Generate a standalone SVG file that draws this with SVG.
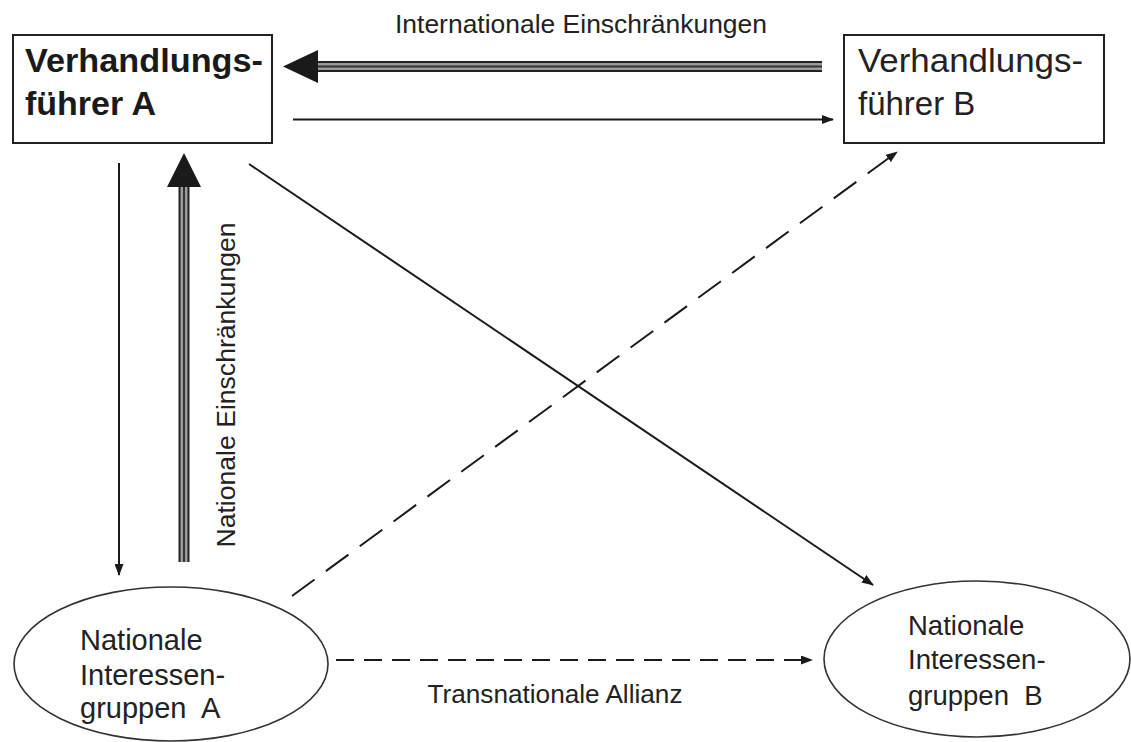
<svg xmlns="http://www.w3.org/2000/svg" width="1131" height="742" viewBox="0 0 1131 742">
<style>
  .box{fill:#fff;stroke:#222;stroke-width:2}
  .ell{fill:#fff;stroke:#333;stroke-width:1.6}
  .t{font-family:"Liberation Sans",Arial,sans-serif;fill:#222}
  .tb{font-family:"Liberation Sans",Arial,sans-serif;fill:#1a1a1a;font-weight:bold}
  .ln{stroke:#1a1a1a;stroke-width:2;fill:none}
  .dash{stroke:#1a1a1a;stroke-width:2;fill:none}
  .outer{stroke:#222;stroke-width:11;fill:none}
  .mid{stroke:#9a9a9a;stroke-width:7;fill:none}
  .core{stroke:#333;stroke-width:2;fill:none}
  .head{fill:#1a1a1a}
</style>
<defs>
  <marker id="arr" markerUnits="userSpaceOnUse" markerWidth="12" markerHeight="9" refX="11" refY="4.5" orient="auto">
    <path d="M0,0 L12,4.5 L0,9 Z" fill="#1a1a1a"/>
  </marker>
</defs>
<rect width="1131" height="742" fill="#fff"/>

<g id="connectors">
  <!-- International constraints: B -> A (triple) -->
  <line class="outer" x1="317" y1="66.5" x2="822" y2="66.5"/>
  <line class="mid" x1="317" y1="66.5" x2="822" y2="66.5"/>
  <line class="core" x1="317" y1="66.5" x2="822" y2="66.5"/>
  <polygon class="head" points="283,66.5 318,50 318,83"/>
  <text class="t" x="581" y="33" font-size="25" text-anchor="middle" textLength="372" lengthAdjust="spacingAndGlyphs">Internationale Einschränkungen</text>

  <!-- A -> B -->
  <line class="ln" x1="293" y1="119.5" x2="833" y2="119.5" marker-end="url(#arr)"/>

  <!-- A -> Gruppen A -->
  <line class="ln" x1="119" y1="163" x2="119" y2="575" marker-end="url(#arr)"/>

  <!-- Gruppen A -> A (triple, nationale Einschraenkungen) -->
  <line class="outer" x1="184" y1="562" x2="184" y2="186"/>
  <line class="mid" x1="184" y1="562" x2="184" y2="186"/>
  <line class="core" x1="184" y1="562" x2="184" y2="186"/>
  <polygon class="head" points="184,153 167,187 201,187"/>
  <text class="t" font-size="25" text-anchor="middle" transform="translate(235,385) rotate(-90)" textLength="325" lengthAdjust="spacingAndGlyphs">Nationale Einschränkungen</text>

  <!-- A -> Gruppen B -->
  <line class="ln" x1="249" y1="164" x2="873" y2="585" marker-end="url(#arr)"/>

  <!-- Gruppen A -> B (dashed) -->
  <line class="dash" x1="292" y1="596" x2="897" y2="152" stroke-dasharray="28,14" marker-end="url(#arr)"/>

  <!-- Transnationale Allianz -->
  <line class="dash" x1="336" y1="660" x2="812" y2="660" stroke-dasharray="18,10" marker-end="url(#arr)"/>
  <text class="t" x="555" y="703" font-size="25" text-anchor="middle" textLength="255" lengthAdjust="spacingAndGlyphs">Transnationale Allianz</text>
</g>

<g id="node-verhandlungsfuehrer-a">
  <rect class="box" x="13" y="35" width="259" height="108"/>
  <text class="tb" x="25" y="72" font-size="34" textLength="238" lengthAdjust="spacingAndGlyphs">Verhandlungs-</text>
  <text class="tb" x="25" y="115" font-size="34">führer A</text>
</g>

<g id="node-verhandlungsfuehrer-b">
  <rect class="box" x="844" y="35" width="260" height="108"/>
  <text class="t" x="858" y="72" font-size="33" textLength="225" lengthAdjust="spacingAndGlyphs">Verhandlungs-</text>
  <text class="t" x="858" y="115" font-size="33">führer B</text>
</g>

<g id="node-interessengruppen-a">
  <ellipse class="ell" cx="171" cy="664" rx="157" ry="77"/>
  <text class="t" x="80" y="650" font-size="29">Nationale</text>
  <text class="t" x="80" y="685" font-size="29">Interessen-</text>
  <text class="t" x="80" y="718" font-size="29" style="white-space:pre">gruppen  A</text>
</g>

<g id="node-interessengruppen-b">
  <ellipse class="ell" cx="977" cy="659" rx="153" ry="78"/>
  <text class="t" x="908" y="635" font-size="27.5">Nationale</text>
  <text class="t" x="908" y="669" font-size="27.5">Interessen-</text>
  <text class="t" x="908" y="705" font-size="27.5" style="white-space:pre">gruppen  B</text>
</g>
</svg>
